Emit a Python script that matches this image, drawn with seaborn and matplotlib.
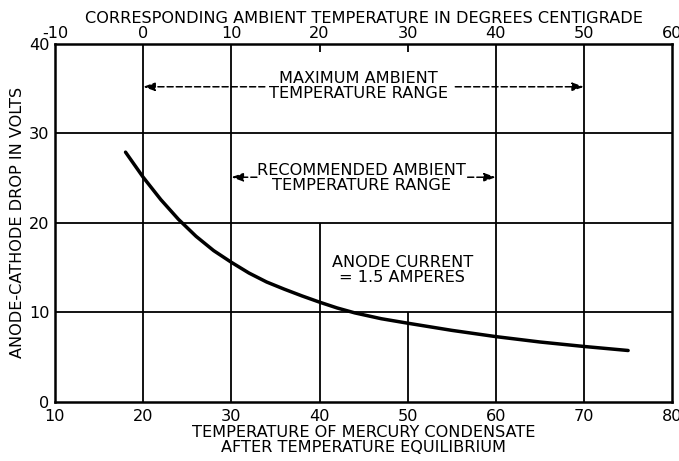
import matplotlib
matplotlib.use("Agg")
import matplotlib.pyplot as plt
import seaborn as sns
import pandas as pd

# curve: condensate temperature vs anode-cathode drop
mercury_temp = [18, 20, 22, 24, 26, 28, 30, 32, 34, 36, 38, 40, 42, 44, 47, 50, 55, 60, 65, 70, 75]
drop_volts = [27.9, 25.1, 22.6, 20.4, 18.5, 16.9, 15.6, 14.4, 13.4, 12.6, 11.85, 11.15,
              10.5, 9.95, 9.3, 8.8, 8.0, 7.3, 6.7, 6.2, 5.75]

x_ticks = [10, 20, 30, 40, 50, 60, 70, 80]
y_ticks = [0, 10, 20, 30, 40]
ambient_ticks = [-10, 0, 10, 20, 30, 40, 50, 60]

sns.set_style("white")
plt.rcParams["font.family"] = ["DejaVu Sans"]
plt.rcParams["axes.unicode_minus"] = False
for k in ["text.color", "axes.labelcolor", "xtick.color", "ytick.color"]:
    plt.rcParams[k] = "black"
FS = 11.6

df = pd.DataFrame({"temp": mercury_temp, "drop": drop_volts})

fig = plt.figure(figsize=(6.79, 4.61), dpi=100)
ax = fig.add_axes([0.081, 0.128, 0.909, 0.777])

# grid, some lines are only partial like the original
lw_grid = 1.3
for x in [20, 30, 60, 70]:
    ax.vlines(x, 0, 40, color="black", lw=lw_grid)
ax.vlines(40, 0, 20, color="black", lw=lw_grid)
ax.vlines(50, 0, 10, color="black", lw=lw_grid)
for y in [10, 20, 30]:
    ax.hlines(y, 10, 80, color="black", lw=lw_grid)
# short ticks hanging from the top
ax.vlines([40, 50], 39.1, 40, color="black", lw=lw_grid)

sns.lineplot(data=df, x="temp", y="drop", ax=ax, color="black", lw=2.5)

ax.set_xlim(10, 80)
ax.set_ylim(0, 40)
ax.set_xticks(x_ticks)
ax.set_yticks(y_ticks)
ax.tick_params(length=0, labelsize=FS)
ax.tick_params(axis="x", pad=5)
ax.tick_params(axis="y", pad=4)
for s in ax.spines.values():
    s.set_color("black")
    s.set_linewidth(1.8)

ax.set_xlabel("TEMPERATURE OF MERCURY CONDENSATE\nAFTER TEMPERATURE EQUILIBRIUM",
              fontsize=FS, labelpad=1, linespacing=0.95)
ax.set_ylabel("ANODE-CATHODE DROP IN VOLTS", fontsize=FS, labelpad=3)

top = ax.secondary_xaxis("top", functions=(lambda v: v - 20, lambda v: v + 20))
top.set_xticks(ambient_ticks)
top.tick_params(length=0, labelsize=FS, pad=2)
top.set_xlabel("CORRESPONDING AMBIENT TEMPERATURE IN DEGREES CENTIGRADE",
               fontsize=FS, labelpad=2)
top.spines["top"].set_visible(False)

# range annotations
arrow = dict(arrowstyle="-|>,head_length=0.7,head_width=0.25", linestyle=(0, (4, 2)),
             color="black", lw=1.1, shrinkA=0, shrinkB=0)
ax.text(44.4, 35.3, "MAXIMUM AMBIENT\nTEMPERATURE RANGE", ha="center", va="center",
        fontsize=FS, linespacing=1.0)
ax.annotate("", xy=(20, 35.2), xytext=(33.8, 35.2), arrowprops=arrow)
ax.annotate("", xy=(70, 35.2), xytext=(55.4, 35.2), arrowprops=arrow)

ax.text(44.8, 25.0, "RECOMMENDED AMBIENT\nTEMPERATURE RANGE", ha="center", va="center",
        fontsize=FS, linespacing=1.0)
ax.annotate("", xy=(30, 25.1), xytext=(32.9, 25.1), arrowprops=arrow)
ax.annotate("", xy=(60, 25.1), xytext=(56.8, 25.1), arrowprops=arrow)

ax.text(49.4, 14.7, "ANODE CURRENT\n= 1.5 AMPERES", ha="center", va="center",
        fontsize=FS, linespacing=1.0)

fig.savefig("out.png", dpi=100)
